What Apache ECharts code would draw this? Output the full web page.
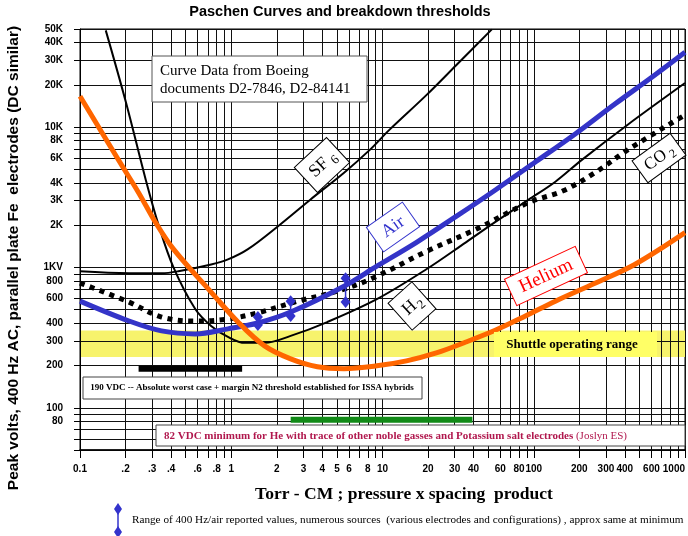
<!DOCTYPE html>
<html>
<head>
<meta charset="utf-8">
<script src="https://cdn.jsdelivr.net/npm/echarts@6/dist/echarts.min.js"></script>
<style>
  html, body { margin: 0; padding: 0; background: #fff; }
  #chart { width: 688px; height: 536px; }
</style>
</head>
<body>
<div id="chart"></div>
<script>
// Breakdown voltage (peak volts) against pressure x gap (Torr-cm)
const heliumPd = [0.1, 0.181, 0.244, 0.316, 0.415, 0.736, 1.108, 1.66, 2.47, 3.71, 5.57, 9.17, 14.4, 22.7, 35.6, 56.1, 88.1, 139, 254, 465, 1000];
const heliumV  = [16600, 5750, 3410, 2090, 1350, 667, 408, 276, 223, 196, 190, 199, 216, 246, 294, 358, 451, 575, 772, 1050, 1770];

const airPd = [0.1, 0.211, 0.346, 0.578, 0.951, 1.50, 2.47, 5.57, 9.17, 16.8, 30.7, 56.1, 103, 188, 344, 629, 1000];
const airV  = [575, 415, 353, 336, 365, 402, 481, 735, 1020, 1510, 2310, 3580, 5660, 8940, 14600, 23400, 34100];

const sf6Pd = [0.1, 0.211, 0.346, 0.447, 0.736, 0.951, 1.29, 2.03, 3.33, 5.57, 8.24, 11.1, 19.5, 30.7, 52.8];
const sf6V  = [939, 909, 909, 939, 1050, 1140, 1350, 1960, 3040, 4730, 6880, 9550, 16900, 27600, 49700];

const h2Pd = [0.148, 0.202, 0.272, 0.330, 0.415, 0.578, 0.736, 0.951, 1.23, 1.66, 2.47, 4.31, 9.17, 19.5, 35.6, 56.1, 92.5, 139, 208, 418, 1000];
const h2V  = [48900, 14800, 4220, 2020, 1000, 505, 383, 320, 290, 290, 325, 408, 594, 970, 1510, 2120, 3040, 4080, 5840, 10400, 20600];

const co2Pd = [0.1, 0.211, 0.346, 0.578, 0.951, 1.57, 2.62, 5.57, 9.17, 19.5, 41.5, 92.5, 155, 254, 418, 1000];
const co2V  = [774, 566, 443, 415, 429, 481, 566, 700, 865, 1300, 1870, 2900, 3500, 4730, 6880, 12200];

// reported 400 Hz air values: spread at three gap products
const rangePd   = [1.5, 2.47, 5.7];
const rangeLow  = [389, 451, 566];
const rangeHigh = [443, 575, 837];

// threshold bars
const worstCasePd = [0.244, 1.18];
const worstCaseV = 190;
const heMinPd = [2.47, 39.3];
const heMinV = 82;

// shuttle operating band (peak volts)
const shuttleBand = [230, 355];

// axis labels
const xLabelVals = [0.1, 0.2, 0.3, 0.4, 0.6, 0.8, 1, 2, 3, 4, 5, 6, 8, 10, 20, 30, 40, 60, 80, 100, 200, 300, 400, 600, 1000];
const xLabelText = ['0.1', '.2', '.3', '.4', '.6', '.8', '1', '2', '3', '4', '5', '6', '8', '10', '20', '30', '40', '60', '80', '100', '200', '300', '400', '600', '1000'];
const yLabelVals = [80, 100, 200, 300, 400, 600, 800, 1000, 2000, 3000, 4000, 6000, 8000, 10000, 20000, 30000, 40000, 50000];
const yLabelText = ['80', '100', '200', '300', '400', '600', '800', '1KV', '2K', '3K', '4K', '6K', '8K', '10K', '20K', '30K', '40K', '50K'];

const LG = Math.log10;
const pts = (pd, v) => pd.map((p, i) => [LG(p), LG(v[i])]);

// log grid: 1..9 of every decade
const pdGrid = [];
[0.1, 1, 10, 100].forEach(d => { for (let k = 1; k <= 9; k++) pdGrid.push(+(k * d).toPrecision(3)); });
pdGrid.push(1000);
const vGrid = [50, 60, 70, 80, 90];
[100, 1000, 10000].forEach(d => { for (let k = 1; k <= 9; k++) { const v = k * d; if (v <= 50000) vGrid.push(v); } });

const keyOf = v => (+v).toFixed(4);
const xLabelMap = new Map(xLabelVals.map((v, i) => [keyOf(LG(v)), xLabelText[i]]));
const yLabelMap = new Map(yLabelVals.map((v, i) => [keyOf(LG(v)), yLabelText[i]]));

const SANS = '"Liberation Sans", Arial, sans-serif';
const SERIF = '"Liberation Serif", "Times New Roman", serif';

const curve = (name, pd, v, color, width, extra) => Object.assign({
  name, type: 'line', data: pts(pd, v), smooth: 0.35, showSymbol: false, symbol: 'none',
  z: 3, silent: true, clip: true,
  lineStyle: { color, width, cap: 'butt', join: 'round' }
}, extra || {});

const seg = (name, pd, v, color, width) => ({
  name, type: 'line', data: pd.map(p => [LG(p), LG(v)]), showSymbol: false, symbol: 'none',
  z: 3, silent: true, lineStyle: { color, width, cap: 'butt' }
});

const rangeSeries = rangePd.map((p, i) => ({
  name: 'air range ' + i, type: 'line', z: 4, silent: true,
  data: [[LG(p), LG(rangeLow[i])], [LG(p), LG(rangeHigh[i])]],
  symbol: 'diamond', symbolSize: [10, 12], showSymbol: true,
  itemStyle: { color: '#3333cc' }, lineStyle: { color: '#3333cc', width: 1.5 }
}));

// rotated gas tags
const Z = 20;
function tag(cx, cy, deg, w, h, main, sub, color, size, mainDx, subDx) {
  const kids = [
    { type: 'rect', z: Z, shape: { x: -w / 2, y: -h / 2, width: w, height: h },
      style: { fill: '#fff', stroke: color, lineWidth: 1 } },
    { type: 'text', z: Z + 1, x: mainDx, y: 0,
      style: { text: main, font: size + 'px ' + SERIF, fill: color, textAlign: 'center', textVerticalAlign: 'middle' } }
  ];
  if (sub) kids.push({ type: 'text', z: Z + 1, x: subDx, y: size * 0.3,
    style: { text: sub, font: Math.round(size * 0.7) + 'px ' + SERIF, fill: color, textAlign: 'center', textVerticalAlign: 'middle' } });
  return { type: 'group', x: cx, y: cy, rotation: deg * Math.PI / 180, z: Z, children: kids };
}

const graphics = [
  { type: 'text', z: Z, x: 340, y: 12,
    style: { text: 'Paschen Curves and breakdown thresholds', font: 'bold 14.5px ' + SANS, fill: '#000', textAlign: 'center', textVerticalAlign: 'middle' } },
  { type: 'text', z: Z, x: 14, y: 258, rotation: Math.PI / 2,
    style: { text: 'Peak volts, 400 Hz AC, parallel plate Fe  electrodes (DC similar)', font: 'bold 15.5px ' + SANS, fill: '#000', textAlign: 'center', textVerticalAlign: 'middle' } },
  { type: 'text', z: Z, x: 404, y: 494,
    style: { text: 'Torr - CM ; pressure x spacing  product', font: 'bold 17.5px ' + SERIF, fill: '#000', textAlign: 'center', textVerticalAlign: 'middle' } },

  // source note
  { type: 'rect', z: Z, shape: { x: 152, y: 56, width: 215, height: 46 }, style: { fill: '#fff', stroke: '#555', lineWidth: 1 } },
  { type: 'text', z: Z + 1, x: 160, y: 71, style: { text: 'Curve Data from Boeing', font: '15px ' + SERIF, fill: '#000', textVerticalAlign: 'middle' } },
  { type: 'text', z: Z + 1, x: 160, y: 89, style: { text: 'documents D2-7846, D2-84141', font: '15px ' + SERIF, fill: '#000', textVerticalAlign: 'middle' } },

  tag(322, 165, 43, 44, 34, 'SF', '6', '#000', 18, -4, 13),
  tag(393, 227, 35, 44, 30, 'Air', null, '#3333cc', 18, 0, 0),
  tag(412, 306, 42, 32, 36, 'H', '2', '#000', 18, -3, 8),
  tag(659, 158, 36, 47, 27, 'CO', '2', '#000', 17, -4, 14),
  tag(546, 276, 25, 78, 29, 'Helium', null, '#ff0000', 19, 0, 0),

  // shuttle band tag
  { type: 'rect', z: Z, shape: { x: 494, y: 332, width: 163, height: 25 }, style: { fill: '#ffff66' } },
  { type: 'text', z: Z + 1, x: 572, y: 345, style: { text: 'Shuttle operating range', font: 'bold 13px ' + SERIF, fill: '#000', textAlign: 'center', textVerticalAlign: 'middle' } },

  // worst case note
  { type: 'rect', z: Z, shape: { x: 83, y: 377, width: 339, height: 22 }, style: { fill: '#fff', stroke: '#444', lineWidth: 1 } },
  { type: 'text', z: Z + 1, x: 252, y: 388, style: { text: '190 VDC -- Absolute worst case + margin N2 threshold established for ISSA hybrids', font: 'bold 9px ' + SERIF, fill: '#000', textAlign: 'center', textVerticalAlign: 'middle' } },

  // helium minimum note
  { type: 'rect', z: Z, shape: { x: 156, y: 425, width: 529, height: 21 }, style: { fill: '#fff', stroke: '#444', lineWidth: 1 } },
  { type: 'text', z: Z + 1, x: 164, y: 436,
    style: { text: '{b|82 VDC minimum for He with trace of other noble gasses and Potassium salt electrodes }{n|(Joslyn ES)}',
      textVerticalAlign: 'middle',
      rich: { b: { font: 'bold 11px ' + SERIF, fill: '#b0174d' }, n: { font: '11px ' + SERIF, fill: '#b0174d' } } } },

  // range marker key
  { type: 'line', z: Z, shape: { x1: 118, y1: 509, x2: 118, y2: 532 }, style: { stroke: '#3333cc', lineWidth: 1.5 } },
  { type: 'polygon', z: Z, shape: { points: [[118, 503], [122, 509], [118, 515], [114, 509]] }, style: { fill: '#3333cc' } },
  { type: 'polygon', z: Z, shape: { points: [[118, 526], [122, 532], [118, 538], [114, 532]] }, style: { fill: '#3333cc' } },
  { type: 'text', z: Z, x: 132, y: 520,
    style: { text: 'Range of 400 Hz/air reported values, numerous sources  (various electrodes and configurations) , approx same at minimum', font: '11.2px ' + SERIF, fill: '#000', textVerticalAlign: 'middle' } }
];

const option = {
  animation: false,
  grid: { left: 80, right: 0, top: 29, bottom: 86, show: true, borderColor: '#000', borderWidth: 1, backgroundColor: 'transparent' },
  xAxis: {
    type: 'value', min: -1, max: 3, z: 2,
    axisLine: { show: true, onZero: false, lineStyle: { color: '#000', width: 1.5 } },
    axisTick: { show: true, customValues: pdGrid.map(LG), length: 8, lineStyle: { color: '#000', width: 1 } },
    axisLabel: { customValues: xLabelVals.map(LG), formatter: v => xLabelMap.get(keyOf(v)) || '',
      fontFamily: SANS, fontWeight: 'bold', fontSize: 10, color: '#000', margin: 14, alignMaxLabel: 'right' },
    splitLine: { show: true, customValues: pdGrid.map(LG), lineStyle: { color: '#111', width: 1 } }
  },
  yAxis: {
    type: 'value', min: LG(50), max: LG(50000), z: 2,
    axisLine: { show: true, onZero: false, lineStyle: { color: '#000', width: 1 } },
    axisTick: { show: true, customValues: vGrid.map(LG), length: 6, lineStyle: { color: '#000', width: 1 } },
    axisLabel: { customValues: yLabelVals.map(LG), formatter: v => yLabelMap.get(keyOf(v)) || '',
      fontFamily: SANS, fontWeight: 'bold', fontSize: 10, color: '#000', margin: 17 },
    splitLine: { show: true, customValues: vGrid.map(LG), lineStyle: { color: '#111', width: 1 } }
  },
  series: [
    { name: 'band', type: 'line', data: [], z: 1, silent: true,
      markArea: { silent: true, itemStyle: { color: '#f7f36c' },
        data: [[{ yAxis: LG(shuttleBand[0]) }, { yAxis: LG(shuttleBand[1]) }]] } },
    curve('SF6', sf6Pd, sf6V, '#000', 2),
    curve('H2', h2Pd, h2V, '#000', 2),
    curve('CO2', co2Pd, co2V, '#000', 5, { lineStyle: { color: '#000', width: 5, type: [5, 5.5], cap: 'butt' } }),
    curve('Air', airPd, airV, '#3434c8', 5),
    curve('Helium', heliumPd, heliumV, '#ff6600', 5),
    seg('worst case', worstCasePd, worstCaseV, '#000', 6),
    seg('He minimum', heMinPd, heMinV, '#118a17', 6)
  ].concat(rangeSeries),
  graphic: graphics
};

const chart = echarts.init(document.getElementById('chart'), null, { renderer: 'canvas' });
chart.setOption(option);
</script>
</body>
</html>
